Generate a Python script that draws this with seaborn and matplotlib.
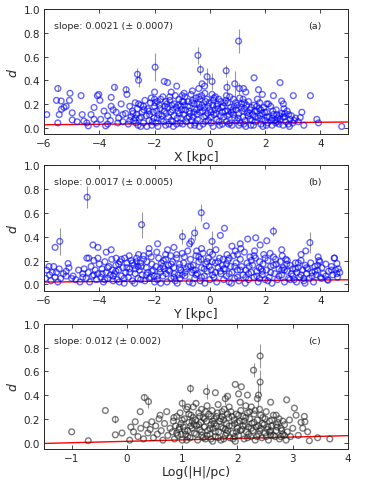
import pandas as pd
import matplotlib
matplotlib.use('Agg')
import matplotlib.pyplot as plt
import seaborn as sns

# ---- panel (a): d vs X ----
cloud_a = [
    (-3.15,0.05),(-3.05,0.12),(-2.95,0.03),(-2.9,0.18),(-2.85,0.09),(-2.8,0.14),(-2.75,0.06),(-2.7,0.21),(-2.65,0.11),(-2.6,0.02),(-2.62,0.16),
    (-2.55,0.08),(-2.5,0.19),(-2.45,0.13),(-2.4,0.04),(-2.35,0.23),(-2.3,0.10),(-2.25,0.16),(-2.2,0.06),(-2.15,0.21),(-2.1,0.02),(-2.05,0.13),(-2.0,0.18),(-2.02,0.08),(-2.12,0.25),(-2.28,0.01),
    (-1.95,0.04),(-1.9,0.22),(-1.85,0.11),(-1.8,0.16),(-1.75,0.07),(-1.7,0.26),(-1.65,0.14),(-1.6,0.02),(-1.55,0.20),(-1.5,0.09),(-1.92,0.14),(-1.78,0.24),(-1.68,0.05),(-1.58,0.12),(-1.52,0.17),(-1.88,0.01),
    (-1.45,0.23),(-1.4,0.06),(-1.35,0.15),(-1.3,0.10),(-1.25,0.27),(-1.2,0.03),(-1.15,0.19),(-1.1,0.12),(-1.05,0.08),(-1.0,0.22),(-1.42,0.13),(-1.32,0.01),(-1.22,0.17),(-1.12,0.24),(-1.02,0.15),(-1.28,0.20),(-1.08,0.04),
    (-0.95,0.11),(-0.9,0.26),(-0.85,0.05),(-0.8,0.18),(-0.75,0.14),(-0.7,0.02),(-0.65,0.21),(-0.6,0.09),(-0.55,0.16),(-0.5,0.25),(-0.92,0.19),(-0.82,0.08),(-0.72,0.12),(-0.62,0.23),(-0.52,0.04),(-0.68,0.28),(-0.58,0.13),
    (-0.45,0.07),(-0.4,0.20),(-0.35,0.13),(-0.3,0.27),(-0.25,0.03),(-0.2,0.17),(-0.15,0.10),(-0.1,0.24),(-0.05,0.06),(0.0,0.15),(-0.48,0.15),(-0.38,0.01),(-0.28,0.19),(-0.18,0.29),(-0.08,0.12),(-0.02,0.21),(-0.22,0.09),
    (0.05,0.04),(0.1,0.19),(0.15,0.11),(0.2,0.26),(0.25,0.07),(0.3,0.16),(0.35,0.02),(0.4,0.22),(0.45,0.13),(0.5,0.09),(0.08,0.28),(0.18,0.15),(0.28,0.20),(0.38,0.10),(0.48,0.18),(0.12,0.01),(0.32,0.24),
    (0.55,0.14),(0.6,0.05),(0.65,0.21),(0.7,0.11),(0.75,0.17),(0.8,0.02),(0.85,0.24),(0.9,0.08),(0.95,0.15),(1.0,0.19),(0.58,0.23),(0.68,0.03),(0.78,0.13),(0.88,0.18),(0.98,0.06),(0.72,0.26),
    (1.05,0.12),(1.1,0.04),(1.15,0.20),(1.2,0.09),(1.25,0.16),(1.3,0.01),(1.35,0.13),(1.4,0.22),(1.45,0.07),(1.5,0.17),(1.08,0.25),(1.18,0.14),(1.28,0.06),(1.38,0.10),(1.48,0.02),
    (1.55,0.11),(1.6,0.19),(1.65,0.05),(1.7,0.14),(1.75,0.08),(1.8,0.21),(1.85,0.03),(1.9,0.12),(1.95,0.17),(2.0,0.06),(1.58,0.02),(1.72,0.24),(1.82,0.10),(1.92,0.01),
    (2.05,0.13),(2.1,0.04),(2.15,0.09),(2.2,0.18),(2.25,0.02),(2.3,0.11),(2.35,0.06),(2.4,0.15),(2.45,0.08),(2.5,0.03),(2.12,0.20),(2.28,0.14),(2.42,0.11),
    (2.55,0.07),(2.6,0.12),(2.65,0.02),(2.7,0.09),(2.75,0.05),(2.8,0.14),(2.85,0.03),(2.9,0.07),(2.95,0.10),(3.0,0.04),(3.05,0.06),(2.68,0.16),(2.88,0.01),
    (-5.9,0.11),(-5.5,0.04),(-5.45,0.11),(-5.37,0.155),(-5.28,0.17),(-5.2,0.18),(-5.08,0.23),(-5.06,0.29),(-4.98,0.125),(-4.98,0.065),(-4.8,0.05),
    (-4.66,0.27),(-4.62,0.11),(-4.56,0.055),(-4.4,0.015),(-4.3,0.11),(-4.19,0.17),(-4.19,0.07),(-4.07,0.27),(-4.02,0.28),(-3.98,0.23),(-3.95,0.07),
    (-3.83,0.14),(-3.77,0.015),(-3.7,0.10),(-3.57,0.255),(-3.57,0.18),(-3.39,0.13),(-3.33,0.04),(-3.21,0.2),(-3.15,0.11),(-3.0,0.28),
    (-5.38,0.225),(-5.55,0.23),(-4.45,0.04),(-4.1,0.03),(-3.6,0.06),
    (3.02,0.27),(3.1,0.08),(3.2,0.05),(3.27,0.085),(3.33,0.13),(3.4,0.02),(3.64,0.27),(3.87,0.07),(3.93,0.04),(4.77,0.01),
    (2.06,0.20),(1.6,0.42),(1.76,0.32),(2.54,0.38),(2.6,0.225),(2.66,0.20),(2.3,0.27),(-1.65,0.39),(-1.53,0.38),(-1.2,0.35),
    (-0.93,0.29),(-0.63,0.31),(-0.28,0.37),(-0.19,0.35),(1.22,0.33),(-2.0,0.30),(-1.4,0.30),(-0.4,0.33),(1.9,0.28),(1.3,0.30),
]
core_a = [
    (-2.78,0.12),(-2.68,0.04),(-2.58,0.20),(-2.48,0.09),(-2.38,0.15),(-2.18,0.11),(-2.08,0.05),(-1.98,0.21),(-1.83,0.19),(-1.73,0.10),
    (-1.63,0.18),(-1.48,0.03),(-1.38,0.19),(-1.18,0.08),(-1.06,0.18),(-0.98,0.03),(-0.88,0.15),(-0.78,0.22),(-0.66,0.06),(-0.56,0.20),
    (-0.46,0.11),(-0.36,0.24),(-0.26,0.14),(-0.16,0.05),(-0.06,0.18),(0.03,0.09),(0.13,0.23),(0.23,0.12),(0.33,0.05),(0.43,0.17),
    (0.53,0.21),(0.63,0.10),(0.73,0.04),(0.83,0.15),(0.93,0.21),(1.03,0.08),(1.13,0.17),(1.23,0.03),(1.33,0.19),(1.43,0.12),
    (1.53,0.06),(1.63,0.14),(1.78,0.16),(1.88,0.07),(1.98,0.13),(2.08,0.09),(2.22,0.06),(2.38,0.04),(2.52,0.10),(2.72,0.12),
    (-2.9,0.06),(-2.5,0.01),(-2.2,0.14),(-1.9,0.08),(-1.6,0.22),(-1.35,0.05),(-1.15,0.14),(-0.95,0.22),(-0.75,0.09),(-0.55,0.02),
    (-0.35,0.17),(-0.15,0.22),(0.05,0.13),(0.25,0.18),(0.45,0.03),(0.65,0.14),(0.85,0.11),(1.05,0.02),(1.25,0.21),(1.45,0.15),
    (1.65,0.09),(1.85,0.15),(2.05,0.02),(2.25,0.08),(2.45,0.05),(2.65,0.09),(2.85,0.11),(-3.3,0.08),(-3.5,0.15),(-3.7,0.03),
    (-2.0,0.24),(-1.45,0.26),(-1.0,0.27),(-0.4,0.26),(0.15,0.25),(0.6,0.27),(1.2,0.24),(1.7,0.18),(-2.4,0.18),(-2.7,0.08),
]
err_a_x = [1.04, -0.43, -0.34, -1.98, -2.62, -2.58, -0.1, 0.59, 0.62, 0.9, 0.08, 1.07, -5.5, -3.45, -3.03]
err_a_d = [0.73, 0.61, 0.49, 0.51, 0.45, 0.40, 0.43, 0.48, 0.34, 0.37, 0.39, 0.33, 0.33, 0.34, 0.32]
err_a_e = [0.10, 0.07, 0.05, 0.12, 0.05, 0.06, 0.07, 0.05, 0.06, 0.11, 0.07, 0.05, 0.02, 0.02, 0.02]

# ---- panel (b): d vs Y ----
cloud_b = [
    (-5.95,0.05),(-5.9,0.12),(-5.8,0.08),(-5.75,0.03),(-5.65,0.15),(-5.6,0.06),(-5.55,0.10),(-5.5,0.02),
    (-5.45,0.13),(-5.4,0.05),(-5.3,0.09),(-5.2,0.11),(-5.1,0.14),(-5.0,0.05),
    (-4.95,0.07),(-4.85,0.04),(-4.75,0.12),(-4.7,0.02),(-4.6,0.09),(-4.55,0.13),
    (-4.48,0.05),(-4.45,0.22),(-4.4,0.10),(-4.35,0.02),(-4.3,0.15),(-4.25,0.07),(-4.2,0.20),(-4.15,0.12),(-4.1,0.04),(-4.05,0.09),(-4.0,0.17),
    (-3.95,0.06),(-3.9,0.13),(-3.85,0.02),(-3.8,0.19),(-3.75,0.10),(-3.7,0.05),(-3.65,0.15),(-3.6,0.08),(-3.55,0.21),(-3.5,0.03),(-3.52,0.12),
    (-3.45,0.09),(-3.4,0.16),(-3.35,0.04),(-3.3,0.12),(-3.25,0.19),(-3.2,0.07),(-3.15,0.14),(-3.1,0.01),(-3.05,0.10),(-3.0,0.18),(-3.28,0.02),(-3.08,0.22),
    (-2.95,0.06),(-2.9,0.13),(-2.85,0.20),(-2.8,0.03),(-2.75,0.16),(-2.7,0.09),(-2.65,0.22),(-2.6,0.05),(-2.55,0.12),(-2.5,0.18),(-2.92,0.24),(-2.72,0.01),(-2.58,0.25),
    (-2.45,0.08),(-2.4,0.21),(-2.35,0.03),(-2.3,0.14),(-2.25,0.10),(-2.2,0.26),(-2.15,0.06),(-2.1,0.17),(-2.05,0.12),(-2.0,0.02),(-2.48,0.15),(-2.28,0.19),(-2.12,0.23),(-2.02,0.07),
    (-1.95,0.15),(-1.9,0.04),(-1.85,0.22),(-1.8,0.10),(-1.75,0.18),(-1.7,0.07),(-1.65,0.13),(-1.6,0.25),(-1.55,0.02),(-1.5,0.16),(-1.92,0.27),(-1.78,0.01),(-1.68,0.20),(-1.58,0.09),
    (-1.45,0.11),(-1.4,0.05),(-1.35,0.19),(-1.3,0.14),(-1.25,0.03),(-1.2,0.22),(-1.15,0.08),(-1.1,0.17),(-1.05,0.12),(-1.0,0.26),(-1.42,0.24),(-1.28,0.09),(-1.18,0.01),(-1.08,0.05),
    (-0.95,0.18),(-0.9,0.07),(-0.85,0.13),(-0.8,0.28),(-0.75,0.02),(-0.7,0.21),(-0.65,0.10),(-0.6,0.16),(-0.55,0.05),(-0.5,0.24),(-0.92,0.23),(-0.78,0.15),(-0.62,0.01),(-0.52,0.12),
    (-0.45,0.09),(-0.4,0.19),(-0.35,0.03),(-0.3,0.14),(-0.25,0.26),(-0.2,0.07),(-0.15,0.17),(-0.1,0.11),(-0.05,0.22),(0.0,0.04),(-0.48,0.28),(-0.32,0.21),(-0.18,0.01),(-0.02,0.15),
    (0.05,0.12),(0.1,0.25),(0.15,0.06),(0.2,0.18),(0.25,0.02),(0.3,0.14),(0.35,0.22),(0.4,0.09),(0.45,0.16),(0.5,0.04),(0.08,0.19),(0.22,0.29),(0.38,0.11),(0.48,0.21),
    (0.55,0.13),(0.6,0.07),(0.65,0.20),(0.7,0.02),(0.75,0.15),(0.8,0.10),(0.85,0.24),(0.9,0.05),(0.95,0.18),(1.0,0.12),(0.62,0.25),(0.78,0.01),(0.92,0.28),
    (1.05,0.03),(1.1,0.21),(1.15,0.15),(1.2,0.08),(1.25,0.27),(1.3,0.12),(1.35,0.18),(1.4,0.04),(1.45,0.23),(1.5,0.10),(1.12,0.30),(1.28,0.01),(1.42,0.15),
    (1.55,0.16),(1.6,0.06),(1.65,0.22),(1.7,0.11),(1.75,0.02),(1.8,0.19),(1.85,0.13),(1.9,0.08),(1.95,0.25),(2.0,0.04),(1.62,0.28),(1.78,0.14),(1.92,0.17),
    (2.05,0.12),(2.1,0.20),(2.15,0.06),(2.2,0.15),(2.25,0.01),(2.3,0.23),(2.35,0.09),(2.4,0.17),(2.45,0.04),(2.5,0.13),(2.18,0.26),(2.38,0.21),
    (2.55,0.19),(2.6,0.08),(2.65,0.14),(2.7,0.02),(2.75,0.21),(2.8,0.11),(2.85,0.05),(2.9,0.16),(2.95,0.09),(3.0,0.13),(2.62,0.24),(2.78,0.17),
    (3.05,0.04),(3.1,0.18),(3.15,0.10),(3.2,0.14),(3.25,0.06),(3.3,0.20),(3.35,0.12),(3.4,0.03),(3.45,0.16),(3.5,0.09),
    (3.55,0.13),(3.6,0.05),(3.65,0.18),(3.7,0.10),(3.75,0.02),(3.8,0.15),(3.85,0.08),(3.9,0.12),(3.95,0.20),(4.0,0.06),
    (4.05,0.14),(4.1,0.09),(4.2,0.17),(4.25,0.04),(4.3,0.11),(4.4,0.15),(4.45,0.08),(4.5,0.22),(4.55,0.12),(4.6,0.175),(4.65,0.13),(4.7,0.10),(4.62,0.06),
    (-5.6,0.31),(-4.23,0.33),(-4.05,0.31),(-3.75,0.27),(-3.57,0.29),(-4.38,0.22),(-4.05,0.22),(-3.39,0.22),(-1.89,0.34),(-1.53,0.29),
    (-0.73,0.34),(0.38,0.41),(1.37,0.38),(2.06,0.365),(1.82,0.33),(3.47,0.28),(3.92,0.23),(3.98,0.19),(4.51,0.22),(-5.13,0.175),
    (-5.82,0.15),(1.66,0.39),(-0.13,0.49),(0.53,0.47),(2.6,0.29),(-2.2,0.30),(-1.3,0.31),(-0.3,0.30),(0.8,0.32),(1.1,0.34),
    (3.3,0.25),(3.14,0.02),(3.44,0.01),(4.28,0.035),(4.04,0.05),
]
core_b = [
    (-3.9,0.09),(-3.7,0.14),(-3.5,0.07),(-3.3,0.17),(-3.1,0.05),(-2.9,0.10),(-2.7,0.13),(-2.5,0.04),(-2.3,0.08),(-2.1,0.11),
    (-1.9,0.07),(-1.7,0.15),(-1.5,0.12),(-1.3,0.06),(-1.1,0.14),(-0.9,0.10),(-0.7,0.15),(-0.5,0.08),(-0.3,0.06),(-0.1,0.19),
    (0.1,0.08),(0.3,0.19),(0.5,0.13),(0.7,0.09),(0.9,0.15),(1.1,0.12),(1.3,0.06),(1.5,0.20),(1.7,0.07),(1.9,0.11),
    (2.1,0.03),(2.3,0.16),(2.5,0.07),(2.7,0.12),(2.9,0.04),(3.1,0.13),(3.3,0.08),(3.5,0.14),(3.7,0.07),(3.9,0.16),
    (-3.8,0.04),(-3.4,0.11),(-3.0,0.14),(-2.6,0.15),(-2.2,0.05),(-1.8,0.13),(-1.4,0.17),(-1.0,0.08),(-0.6,0.12),(-0.2,0.13),
    (0.2,0.10),(0.6,0.17),(1.0,0.06),(1.4,0.09),(1.8,0.05),(2.2,0.10),(2.6,0.12),(3.0,0.07),(3.4,0.05),(3.8,0.11),
    (-4.2,0.08),(-4.6,0.06),(-5.2,0.07),(-5.7,0.10),(4.2,0.07),(4.4,0.12),(4.6,0.09),(-2.4,0.24),(-1.2,0.25),(0.0,0.27),
    (1.0,0.25),(2.0,0.22),(-3.2,0.21),(3.2,0.18),(-0.4,0.23),(0.7,0.22),(1.6,0.24),(-1.6,0.21),(2.8,0.20),(-2.8,0.18),
]
err_b_x = [-4.44, -5.43, -2.47, -0.31, -0.55, -0.99, 0.08, 2.3, 3.62, -0.67, -2.65]
err_b_d = [0.73, 0.36, 0.50, 0.60, 0.43, 0.40, 0.36, 0.445, 0.35, 0.36, 0.19]
err_b_e = [0.09, 0.11, 0.11, 0.07, 0.06, 0.06, 0.09, 0.04, 0.09, 0.05, 0.04]

# ---- panel (c): d vs Log|H| ----
cloud_c = [
    (0.05,0.02),(0.07,0.13),(0.12,0.09),(0.15,0.175),(0.2,0.05),(0.25,0.12),(0.3,0.03),(0.35,0.15),(0.38,0.08),
    (0.42,0.11),(0.45,0.175),(0.48,0.04),(0.52,0.14),(0.55,0.07),(0.58,0.20),(0.62,0.10),(0.65,0.02),(0.68,0.16),(0.72,0.26),(0.74,0.06),(0.78,0.12),(0.6,0.23),
    (0.82,0.09),(0.84,0.18),(0.86,0.03),(0.88,0.14),(0.9,0.22),(0.92,0.06),(0.94,0.11),(0.96,0.25),(0.98,0.16),(1.0,0.02),
    (1.02,0.13),(1.04,0.20),(1.06,0.07),(1.08,0.28),(1.1,0.10),(1.12,0.17),(1.14,0.04),(1.16,0.23),(1.18,0.12),(1.2,0.30),
    (1.22,0.08),(1.24,0.19),(1.26,0.14),(1.28,0.02),(1.3,0.25),(1.32,0.11),(1.34,0.17),(1.36,0.06),(1.38,0.21),(1.4,0.13),(1.25,0.33),(1.35,0.28),
    (1.42,0.03),(1.44,0.18),(1.46,0.10),(1.48,0.24),(1.5,0.07),(1.52,0.15),(1.54,0.27),(1.56,0.12),(1.58,0.20),(1.6,0.05),(1.45,0.31),(1.55,0.01),(1.52,0.22),
    (1.62,0.14),(1.64,0.25),(1.66,0.09),(1.68,0.18),(1.7,0.02),(1.72,0.22),(1.74,0.12),(1.76,0.28),(1.78,0.06),(1.8,0.16),(1.65,0.32),(1.75,0.03),(1.7,0.20),
    (1.82,0.10),(1.84,0.21),(1.86,0.04),(1.88,0.26),(1.9,0.14),(1.92,0.08),(1.94,0.19),(1.96,0.01),(1.98,0.24),(2.0,0.12),(1.85,0.30),(1.95,0.16),
    (2.02,0.06),(2.04,0.18),(2.06,0.27),(2.08,0.11),(2.1,0.22),(2.12,0.03),(2.14,0.15),(2.16,0.09),(2.18,0.25),(2.2,0.13),(2.05,0.34),(2.15,0.31),
    (2.22,0.20),(2.24,0.05),(2.26,0.16),(2.28,0.10),(2.3,0.24),(2.32,0.02),(2.34,0.13),(2.36,0.19),(2.38,0.07),(2.4,0.28),(2.25,0.30),
    (2.42,0.12),(2.44,0.04),(2.46,0.21),(2.48,0.15),(2.5,0.08),(2.52,0.26),(2.54,0.11),(2.56,0.02),(2.58,0.18),(2.6,0.06),
    (2.62,0.14),(2.65,0.23),(2.68,0.05),(2.7,0.10),(2.73,0.17),(2.76,0.03),(2.79,0.12),(2.82,0.07),(2.85,0.15),(2.88,0.02),(2.9,0.09),
    (-1.0,0.09),(-0.7,0.015),(-0.39,0.27),(-0.21,0.065),(-0.09,0.08),(0.24,0.26),(2.96,0.05),(3.0,0.12),(2.94,0.19),(3.03,0.29),
    (3.06,0.23),(3.21,0.22),(3.22,0.175),(3.18,0.12),(3.27,0.09),(3.3,0.015),(3.45,0.04),(3.67,0.03),(2.6,0.34),(2.36,0.37),
    (2.18,0.40),(2.02,0.41),(1.82,0.39),(1.6,0.42),(1.96,0.49),(2.07,0.47),(2.89,0.36),(1.1,0.30),(2.7,0.23),(3.1,0.06),(3.15,0.17),
]
core_c = [
    (0.9,0.08),(0.95,0.13),(1.0,0.19),(1.05,0.10),(1.1,0.05),(1.15,0.14),(1.2,0.21),(1.25,0.07),(1.3,0.15),(1.35,0.09),
    (1.4,0.20),(1.45,0.06),(1.5,0.12),(1.55,0.18),(1.6,0.09),(1.65,0.04),(1.7,0.13),(1.75,0.19),(1.8,0.08),(1.85,0.14),
    (1.9,0.22),(1.95,0.05),(2.0,0.17),(2.05,0.10),(2.1,0.14),(2.15,0.21),(2.2,0.07),(2.25,0.12),(2.3,0.17),(2.35,0.05),
    (2.4,0.10),(2.45,0.16),(2.5,0.20),(2.55,0.13),(2.6,0.10),(2.65,0.06),(2.7,0.15),(2.75,0.20),(2.8,0.10),(2.85,0.06),
    (1.12,0.24),(1.32,0.22),(1.52,0.03),(1.72,0.26),(1.92,0.03),(2.12,0.18),(2.32,0.27),(2.52,0.05),(2.72,0.13),(1.62,0.22),
    (1.42,0.26),(1.82,0.24),(2.02,0.23),(2.22,0.26),(2.42,0.23),(2.62,0.19),(1.22,0.15),(2.82,0.18),(0.85,0.21),(1.08,0.02),
    (1.58,0.16),(1.78,0.11),(1.98,0.09),(2.18,0.04),(2.38,0.14),(2.58,0.09),(1.38,0.04),(1.18,0.18),(0.98,0.07),(2.78,0.05),
]
err_c_x = [2.41, 2.29, 2.41, 1.15, 1.44, 0.315, 0.39, -0.21, 2.38, 1.78, 1.0]
err_c_d = [0.73, 0.61, 0.51, 0.455, 0.43, 0.38, 0.345, 0.195, 0.40, 0.37, 0.33]
err_c_e = [0.10, 0.06, 0.10, 0.04, 0.06, 0.03, 0.05, 0.03, 0.10, 0.05, 0.04]

# linear fits: slope, slope error, intercept
slopes = [0.0021, 0.0017, 0.012]
slope_errs = ['0.0007', '0.0005', '0.002']
slope_txt = ['0.0021', '0.0017', '0.012']
intercepts = [0.037, 0.030, 0.010]
panel_tags = ['(a)', '(b)', '(c)']
xlabels = ['X [kpc]', 'Y [kpc]', 'Log(|H|/pc)']
xlims = [(-6, 5), (-6, 5), (-1.5, 4)]
colors = ['blue', 'blue', '#222222']

sns.set_style('ticks')
plt.rcParams['font.family'] = ['DejaVu Sans']

fig = plt.figure(figsize=(3.7, 4.81), dpi=100)
rects = [[0.119, 0.719, 0.8216, 0.260],
         [0.119, 0.393, 0.8216, 0.262],
         [0.119, 0.0644, 0.8216, 0.260]]
clouds = [cloud_a + core_a, cloud_b + core_b, cloud_c + core_c]
errs = [(err_a_x, err_a_d, err_a_e), (err_b_x, err_b_d, err_b_e), (err_c_x, err_c_d, err_c_e)]

for i in range(3):
    ax = fig.add_axes(rects[i])
    df = pd.DataFrame(clouds[i], columns=['x', 'd'])
    ex, ed, ee = errs[i]
    ax.errorbar(ex, ed, yerr=ee, fmt='none', ecolor='0.6', elinewidth=0.8, zorder=1)
    ax.axline((0, intercepts[i]), slope=slopes[i], color='red', lw=1.0, zorder=2)
    sns.scatterplot(data=df, x='x', y='d', ax=ax, marker='o', s=17,
                    facecolor='none', edgecolor=colors[i], linewidth=1.0,
                    alpha=0.6, zorder=3)
    sns.scatterplot(x=ex, y=ed, ax=ax, marker='o', s=17,
                    facecolor='none', edgecolor=colors[i], linewidth=1.0,
                    alpha=0.6, zorder=3)
    ax.set_xlim(*xlims[i])
    ax.set_ylim(-0.055, 1.0)
    ax.set_yticks([0.0, 0.2, 0.4, 0.6, 0.8, 1.0])
    ax.set_xlabel(xlabels[i], fontsize=9, labelpad=1)
    ax.set_ylabel('d', fontsize=9, style='italic', labelpad=3)
    ax.tick_params(direction='in', top=True, right=True, labelsize=7.5,
                   length=3, width=0.6, pad=3)
    for sp in ax.spines.values():
        sp.set_linewidth(0.7)
    ax.text(0.033, 0.87, 'slope: %s (± %s)' % (slope_txt[i], slope_errs[i]),
            transform=ax.transAxes, fontsize=6.8, va='center', ha='left')
    ax.text(0.89, 0.87, panel_tags[i], transform=ax.transAxes,
            fontsize=6.8, va='center', ha='center')

fig.savefig('out.png', dpi=100)
